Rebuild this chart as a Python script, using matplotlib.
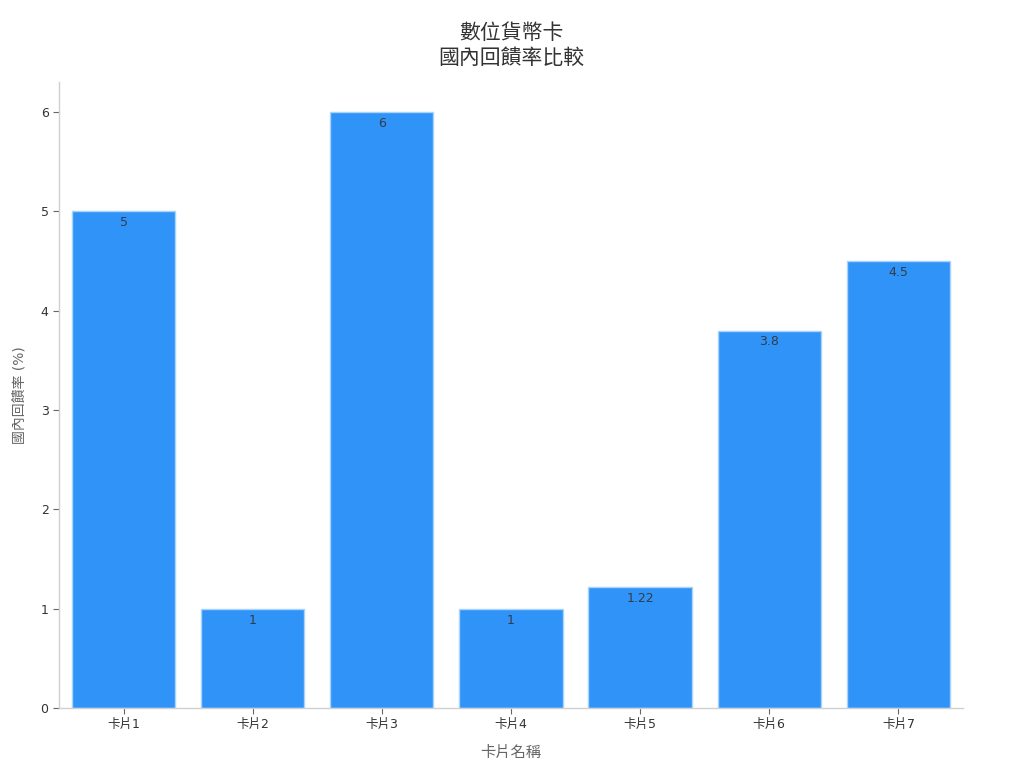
import matplotlib
matplotlib.use("Agg")
import matplotlib.pyplot as plt

plt.rcParams['font.family'] = ['DejaVu Sans', 'Noto Sans CJK TC']

categories = ["卡片1", "卡片2", "卡片3", "卡片4", "卡片5", "卡片6", "卡片7"]
values = [5, 1, 6, 1, 1.22, 3.8, 4.5]
value_labels = ["5", "1", "6", "1", "1.22", "3.8", "4.5"]

fig = plt.figure(figsize=(10.24, 7.68), dpi=100)
ax = fig.add_axes([0.0576, 0.0781, 0.8828, 0.8148])

x = list(range(len(categories)))
bars = ax.bar(x, values, width=0.8, color="#2f93f8", edgecolor="#a8d4fb", linewidth=1)
for b, lab in zip(bars, value_labels):
    ax.annotate(lab, (b.get_x() + b.get_width() / 2, b.get_height()),
                xytext=(0, -3.5), textcoords="offset points",
                ha="center", va="top", fontsize=9, color="#333d4a")

ax.set_xlim(-0.5, 6.5)
ax.set_ylim(0, 6.3)
ax.set_xticks(x)
ax.set_xticklabels(categories)
ax.set_yticks([0, 1, 2, 3, 4, 5, 6])
ax.tick_params(axis="both", labelsize=9, colors="#333333", length=4, width=0.8)
ax.tick_params(axis="x", color="#666666")
ax.tick_params(axis="y", color="#666666")

for s in ["top", "right"]:
    ax.spines[s].set_visible(False)
for s in ["left", "bottom"]:
    ax.spines[s].set_color("#d0d0d0")
    ax.spines[s].set_linewidth(1)

ax.set_xlabel("卡片名稱", fontsize=11, color="#666666", labelpad=10)
ax.set_ylabel("國內回饋率 (%)", fontsize=10, color="#666666", labelpad=10)
ax.set_title("數位貨幣卡\n國內回饋率比較", fontsize=15, color="#333333", pad=13, linespacing=1.3)

fig.savefig("out.png", dpi=100)
